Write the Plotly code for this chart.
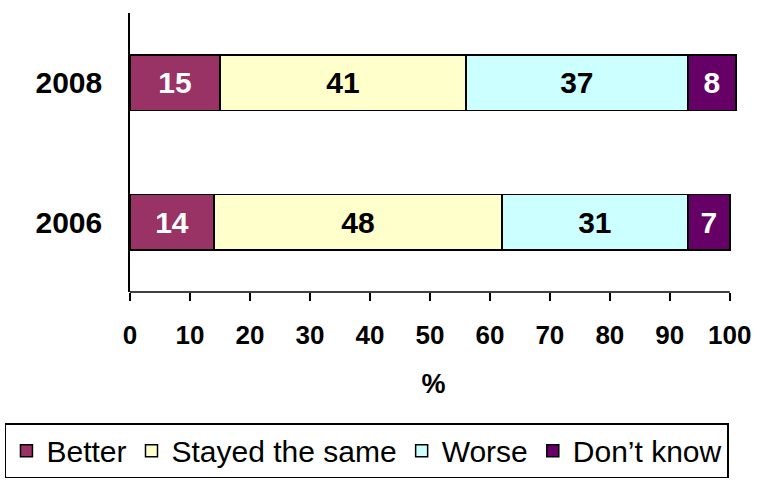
import plotly.graph_objects as go

years = ["2006", "2008"]
series_names = ["Better", "Stayed the same", "Worse", "Don\u2019t know"]
better = [14, 15]
stayed = [48, 41]
worse = [31, 37]
dont_know = [7, 8]
x_ticks = [0, 10, 20, 30, 40, 50, 60, 70, 80, 90, 100]

colors = ["#993366", "#FFFFCC", "#CCFFFF", "#660066"]
text_colors = ["white", "black", "black", "white"]
values = [better, stayed, worse, dont_know]

FONT = "Arial, Liberation Sans, sans-serif"

fig = go.Figure()
for name, vals, col, tcol in zip(series_names, values, colors, text_colors):
    fig.add_trace(go.Bar(
        y=years, x=vals, name=name, orientation="h",
        marker=dict(color=col, line=dict(color="black", width=1.5)),
        text=[str(v) for v in vals], textposition="inside",
        insidetextanchor="middle", textangle=0, constraintext="none",
        textfont=dict(family=FONT, size=30, color=tcol, weight="bold"),
    ))

# x axis line only spans 0..100 (bars may exceed 100)
fig.add_shape(type="line", xref="x", yref="paper", x0=x_ticks[0], x1=x_ticks[-1],
              y0=0, y1=0, line=dict(color="black", width=1.5))

fig.update_layout(
    barmode="stack", bargap=0.6,
    width=777, height=482,
    margin=dict(l=130, r=40, t=13, b=190, autoexpand=False),
    plot_bgcolor="white", paper_bgcolor="white",
    font=dict(family=FONT, color="black"),
    showlegend=True,
    legend=dict(
        orientation="h",
        x=-0.206, xanchor="left", y=-0.47, yanchor="top",
        font=dict(family=FONT, size=30, color="black"),
        bordercolor="black", borderwidth=1.5, bgcolor="white",
        traceorder="normal", itemclick=False, itemwidth=30,
    ),
    xaxis=dict(
        range=[0, 101.2], tickvals=x_ticks, ticks="outside", ticklen=8,
        tickwidth=1.5, tickcolor="black", showline=False,
        showgrid=False, zeroline=False, ticklabelstandoff=12,
        tickfont=dict(family=FONT, size=26, color="black", weight="bold"),
        title=dict(text="%", font=dict(family=FONT, size=27, color="black", weight="bold"), standoff=24),
    ),
    yaxis=dict(
        showline=True, linecolor="black", linewidth=1.5, showgrid=False,
        ticks="", ticklabelstandoff=20,
        tickfont=dict(family=FONT, size=30, color="black", weight="bold"),
    ),
)

fig.write_html("out.html", config={"displayModeBar": False},
               post_script="document.body.style.margin='0';")
